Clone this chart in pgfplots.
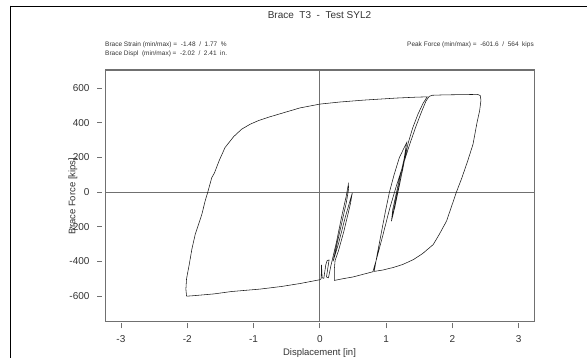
\documentclass[border=0pt]{standalone}
\usepackage{pgfplots}
\pgfplotsset{compat=1.18}
\usepackage{fontspec}
\setmainfont{Liberation Sans}
\definecolor{axgray}{HTML}{707070}
\definecolor{txt}{HTML}{333333}
\begin{document}
\begin{tikzpicture}[x=1pt,y=1pt]
\path[use as bounding box] (0,0) rectangle (587,358);
\begin{axis}[
  at={(105pt,36pt)}, anchor=south west,
  scale only axis, width=429pt, height=252pt,
  xmin=-3.24, xmax=3.23, ymin=-750, ymax=705,
  xtick={-3,-2,-1,0,1,2,3},
  ytick={-600,-400,-200,0,200,400,600},
  tick pos=left,
  axis line style={axgray, line width=1pt},
  tick align=outside, major tick length=5pt,
  xtick style={axgray, line width=0.8pt, yshift=-1.5pt},
  ytick style={axgray, line width=0.8pt, xshift=-3pt},
  /pgf/number format/assume math mode=true,
  ticklabel style={font=\fontsize{10}{11}\selectfont, text=txt},
  xticklabel style={yshift=-5pt},
  yticklabel style={xshift=-7pt},
  xlabel={Displacement [in]},
  ylabel={Brace Force [kips]},
  xlabel style={font=\fontsize{9.5}{10}\selectfont, text=txt, at={(axis description cs:0.5,-0.123)}, anchor=center},
  ylabel style={font=\fontsize{9.5}{10}\selectfont, text=txt, at={(axis description cs:-0.075,0.5)}, anchor=center},
  clip mode=individual,
]
\addplot[axgray, line width=1pt, forget plot] coordinates {(-3.24,0) (3.23,0)};
\addplot[axgray, line width=1pt, forget plot] coordinates {(0,-750) (0,705)};
\addplot[black!90, line width=0.55pt] coordinates {
(0.00,-506) (0.02,-500) (0.025,-420) (0.035,-495) (0.06,-498) (0.09,-420) (0.11,-395) (0.14,-392) (0.12,-440) (0.10,-490) (0.13,-495) (0.17,-420)
(0.25,-290) (0.33,-140) (0.40,-20) (0.43,45) (0.435,20) (0.40,-60) (0.30,-230) (0.20,-400)
(0.28,-300) (0.38,-150) (0.49,-4) (0.46,-70) (0.36,-230) (0.28,-340) (0.23,-395) (0.22,-440) (0.22,-510)
(0.35,-500) (0.50,-490) (0.65,-475) (0.80,-460)
(0.86,-380) (0.95,-250) (1.05,-100) (1.15,30) (1.25,150) (1.35,270) (1.45,380) (1.53,460) (1.60,525) (1.65,553)
(1.70,559) (1.85,561) (2.0,562) (2.2,563) (2.38,564) (2.42,557) (2.43,530) (2.41,470) (2.37,400) (2.31,276) (2.23,180) (2.14,80) (2.06,0) (1.98,-90) (1.91,-168) (1.80,-245) (1.71,-303) (1.55,-355) (1.41,-390) (1.25,-418) (1.11,-435) (0.95,-450) (0.82,-458)
(0.86,-370) (0.92,-250) (0.99,-110) (1.05,0) (1.12,100) (1.20,200) (1.31,286) (1.27,190) (1.18,40) (1.10,-100) (1.08,-168) (1.11,-120) (1.19,20) (1.27,170) (1.30,240) (1.25,130) (1.16,-20) (1.10,-130) (1.13,-90) (1.21,60) (1.28,190) (1.31,250) (1.26,150) (1.18,10) (1.14,-60) (1.20,40) (1.29,210) (1.33,280) (1.40,370) (1.48,450) (1.56,515) (1.62,550)
(1.45,548) (1.16,543) (0.66,531) (0.30,520) (0.0,508) (-0.30,486) (-0.53,460) (-0.75,435) (-0.93,412) (-1.05,392) (-1.18,363) (-1.30,320) (-1.43,257) (-1.52,180) (-1.59,110) (-1.63,83) (-1.69,0) (-1.73,-52) (-1.78,-129) (-1.88,-245) (-1.93,-330) (-1.97,-419) (-2.01,-500) (-2.02,-560) (-2.01,-601)
(-1.90,-598) (-1.60,-588) (-1.33,-574) (-0.90,-560) (-0.58,-545) (-0.30,-528) (0.00,-506)
};
\node[font=\fontsize{10}{12}\selectfont, text=txt, anchor=center] at (axis description cs:0.5,1.218) {Brace\ \ T3\ \ -\ \ Test SYL2};
\node[font=\fontsize{6.5}{7.5}\selectfont, text=txt, anchor=west, inner sep=0pt] at (axis description cs:0,1.1) {Brace Strain (min/max) =\ \ -1.48\ \ /\ \ 1.77\ \ \%};
\node[font=\fontsize{6.5}{7.5}\selectfont, text=txt, anchor=west, inner sep=0pt] at (axis description cs:0,1.063) {Brace Displ\ \ (min/max) =\ \ -2.02\ \ /\ \ 2.41\ \ in.};
\node[font=\fontsize{6.5}{7.5}\selectfont, text=txt, anchor=east, inner sep=0pt] at (axis description cs:1,1.1) {Peak Force (min/max) =\ \ -601.6\ \ /\ \ 564\ \ kips};
\end{axis}
\draw[axgray, line width=1.1pt] (104.5,287.6) -- (534.5,287.6);
\draw[line width=0.5pt, black] (10.5,351.5) -- (587,351.5);
\draw[line width=1.6pt, black] (10.5,351.5) -- (62,351.5);
\draw[line width=1.6pt, black] (545,351.5) -- (587,351.5);
\draw[line width=1.6pt, black] (10.5,352.3) -- (10.5,0);
\end{tikzpicture}
\end{document}
